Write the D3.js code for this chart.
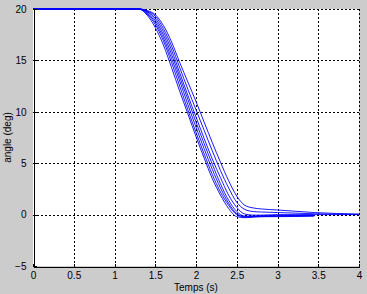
<!DOCTYPE html>
<html>
<head>
<meta charset="utf-8">
<script src="https://cdn.jsdelivr.net/npm/d3@7"></script>
<style>
  body { margin: 0; background: #cccccc; }
  svg { display: block; }
</style>
</head>
<body>
<script>
// time samples shared by every run (s)
const times = [0, 1.3, 1.4, 1.5, 1.6, 1.7, 1.8, 1.9, 2.0, 2.1, 2.2, 2.3, 2.4, 2.5, 2.6, 2.7, 2.8, 3.0, 3.45, 4.0];

// angle (deg) of each run (null = run stopped)
const runA = [20, 20, 19.4, 18.2, 16.5, 14.3, 12.0, 9.8, 7.6, 5.5, 3.5, 1.9, 0.6, -0.2, -0.3, -0.25, -0.2, -0.2, -0.15, null];
const runB = [20, 20, 19.5, 18.5, 16.9, 14.8, 12.5, 10.2, 8.0, 5.9, 3.9, 2.2, 0.9, 0.0, -0.25, -0.2, -0.2, -0.15, -0.1, null];
const runC = [20, 20, 19.6, 18.7, 17.2, 15.2, 13.0, 10.7, 8.5, 6.4, 4.4, 2.6, 1.1, 0.1, -0.2, -0.2, -0.15, -0.15, -0.1, null];
const runD = [20, 20, 19.7, 18.9, 17.5, 15.6, 13.4, 11.2, 9.0, 6.9, 4.9, 3.0, 1.4, 0.3, -0.15, -0.15, -0.1, -0.1, -0.05, null];
const runE = [20, 20, 19.75, 19.1, 17.8, 16.0, 13.8, 11.6, 9.5, 7.4, 5.4, 3.6, 1.9, 0.7, 0.05, -0.05, -0.05, 0, 0, 0];
const runF = [20, 20, 19.8, 19.3, 18.1, 16.4, 14.3, 12.2, 10.2, 8.2, 6.2, 4.3, 2.6, 1.2, 0.5, 0.3, 0.25, 0.2, 0.08, 0.02];
const runG = [20, 20, 19.85, 19.45, 18.4, 16.8, 14.8, 12.9, 11.0, 9.0, 7.0, 5.1, 3.3, 1.8, 0.9, 0.65, 0.55, 0.45, 0.2, 0.05];
const runs = [runA, runB, runC, runD, runE, runF, runG];

const xTicks = [0, 0.5, 1, 1.5, 2, 2.5, 3, 3.5, 4];
const yTicks = [-5, 0, 5, 10, 15, 20];

const W = 367, H = 294;
const margin = {top: 9, right: 8, bottom: 28, left: 33};

const x = d3.scaleLinear().domain([0, 4]).range([margin.left, W - margin.right]);
const y = d3.scaleLinear().domain([-5, 20]).range([H - margin.bottom, margin.top]);

const svg = d3.select('body')
  .append('svg')
  .attr('width', W)
  .attr('height', H);

svg.append('rect')
  .attr('width', W).attr('height', H)
  .attr('fill', '#cccccc');

svg.append('rect')
  .attr('x', x(0)).attr('y', y(20))
  .attr('width', x(4) - x(0)).attr('height', y(-5) - y(20))
  .attr('fill', '#ffffff');

// dotted grid
const grid = svg.append('g')
  .attr('stroke', '#000')
  .attr('stroke-width', 1)
  .attr('stroke-dasharray', '2,2')
  .attr('shape-rendering', 'crispEdges');

grid.selectAll('line.vx')
  .data(xTicks.filter((d) => d > 0))
  .enter()
  .append('line')
  .attr('x1', (d) => Math.round(x(d)) + 0.5)
  .attr('x2', (d) => Math.round(x(d)) + 0.5)
  .attr('y1', y(20))
  .attr('y2', y(-5));

grid.selectAll('line.hy')
  .data(yTicks.filter((d) => d > -5))
  .enter()
  .append('line')
  .attr('x1', x(0))
  .attr('x2', x(4))
  .attr('y1', (d) => Math.round(y(d)) + 0.5)
  .attr('y2', (d) => Math.round(y(d)) + 0.5);

// runs
const line = d3.line()
  .defined((d) => d[1] !== null)
  .x((d) => x(d[0]))
  .y((d) => y(d[1]))
  .curve(d3.curveMonotoneX);

svg.append('g')
  .selectAll('path')
  .data(runs)
  .enter()
  .append('path')
  .attr('d', (r) => line(r.map((v, i) => [times[i], v])))
  .attr('fill', 'none')
  .attr('stroke', '#0000ff')
  .attr('stroke-width', 0.9);

// axes (ticks inward, MATLAB style)
const xAxis = svg.append('g')
  .attr('transform', `translate(0,${Math.round(y(-5)) + 0.5})`)
  .call(d3.axisBottom(x).tickValues(xTicks).tickFormat(d3.format('')).tickSizeInner(-3).tickSizeOuter(0).tickPadding(5));

const yAxis = svg.append('g')
  .attr('transform', `translate(${Math.round(x(0)) + 0.5},0)`)
  .call(d3.axisLeft(y).tickValues(yTicks).tickSizeInner(-3).tickSizeOuter(0).tickPadding(7));

[xAxis, yAxis].forEach((g) => {
  g.selectAll('path, line').attr('stroke', '#000').attr('shape-rendering', 'crispEdges');
  g.selectAll('text')
    .attr('fill', '#000')
    .attr('font-family', 'Liberation Sans, Arial, sans-serif')
    .attr('font-size', 10);
});

svg.append('text')
  .attr('x', (x(0) + x(4)) / 2)
  .attr('y', 291)
  .attr('text-anchor', 'middle')
  .attr('font-family', 'Liberation Sans, Arial, sans-serif')
  .attr('font-size', 10)
  .text('Temps (s)');

svg.append('text')
  .attr('transform', `translate(11,${(y(20) + y(-5)) / 2}) rotate(-90)`)
  .attr('text-anchor', 'middle')
  .attr('font-family', 'Liberation Sans, Arial, sans-serif')
  .attr('font-size', 10)
  .text('angle (deg)');
</script>
</body>
</html>
